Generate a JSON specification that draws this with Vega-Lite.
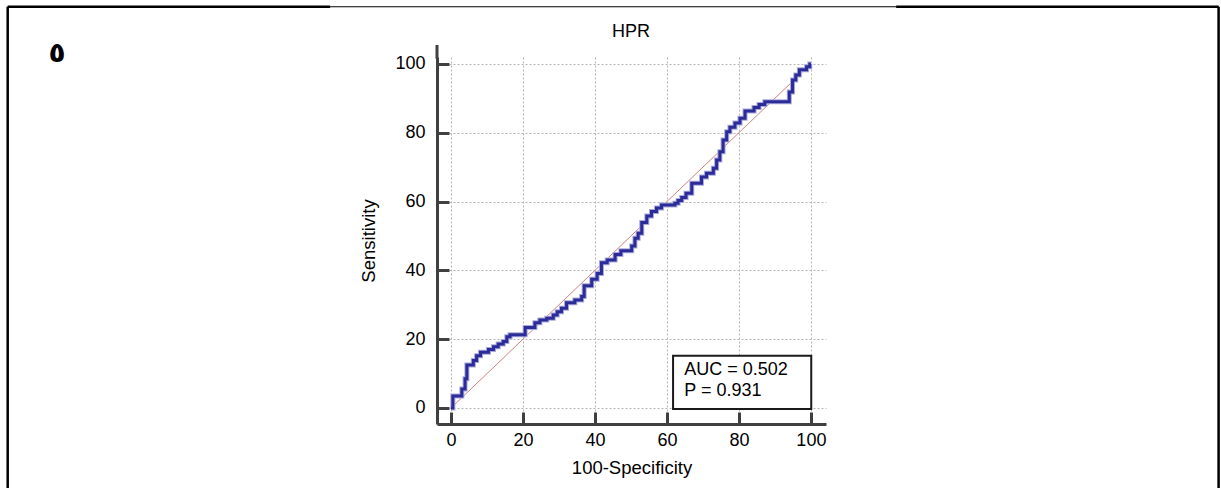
{
  "$schema": "https://vega.github.io/schema/vega-lite/v6.json",
  "width": 389,
  "height": 367,
  "autosize": {"type": "none"},
  "padding": {"left": 437, "top": 57, "right": 395, "bottom": 64},
  "background": "white",
  "config": {"view": {"stroke": null}, "font": "Liberation Sans"},
  "datasets": {
    "roc": [
      {"fpr": 0, "tpr": 0}, {"fpr": 0.5, "tpr": 3.5}, {"fpr": 3.0, "tpr": 5.5}, {"fpr": 3.9, "tpr": 8.5},
      {"fpr": 4.4, "tpr": 12.5}, {"fpr": 6.2, "tpr": 13.8}, {"fpr": 7.1, "tpr": 15.2}, {"fpr": 8.2, "tpr": 16.2},
      {"fpr": 10.4, "tpr": 17.0}, {"fpr": 11.8, "tpr": 17.8}, {"fpr": 13.1, "tpr": 18.6}, {"fpr": 14.5, "tpr": 19.3},
      {"fpr": 15.5, "tpr": 20.7}, {"fpr": 16.4, "tpr": 21.3}, {"fpr": 20.6, "tpr": 23.4}, {"fpr": 23.3, "tpr": 24.8},
      {"fpr": 24.7, "tpr": 25.6}, {"fpr": 26.6, "tpr": 26.1}, {"fpr": 28.4, "tpr": 27.0}, {"fpr": 29.5, "tpr": 28.0},
      {"fpr": 30.7, "tpr": 29.0}, {"fpr": 32.1, "tpr": 30.6}, {"fpr": 34.4, "tpr": 31.4}, {"fpr": 36.3, "tpr": 32.4},
      {"fpr": 37.0, "tpr": 35.5}, {"fpr": 39.1, "tpr": 37.4}, {"fpr": 40.6, "tpr": 39.1}, {"fpr": 41.8, "tpr": 42.2},
      {"fpr": 43.4, "tpr": 43.0}, {"fpr": 45.6, "tpr": 44.6}, {"fpr": 47.2, "tpr": 45.7}, {"fpr": 50.2, "tpr": 47.1},
      {"fpr": 51.1, "tpr": 49.3}, {"fpr": 52.0, "tpr": 50.8}, {"fpr": 53.0, "tpr": 53.9}, {"fpr": 54.4, "tpr": 55.8},
      {"fpr": 55.7, "tpr": 57.1}, {"fpr": 57.1, "tpr": 58.1}, {"fpr": 58.5, "tpr": 59.0}, {"fpr": 62.2, "tpr": 59.5},
      {"fpr": 63.1, "tpr": 60.3}, {"fpr": 64.1, "tpr": 61.2}, {"fpr": 65.3, "tpr": 62.4}, {"fpr": 66.9, "tpr": 65.3},
      {"fpr": 69.6, "tpr": 67.1}, {"fpr": 71.0, "tpr": 68.2}, {"fpr": 72.9, "tpr": 69.7}, {"fpr": 73.8, "tpr": 72.1},
      {"fpr": 74.7, "tpr": 74.5}, {"fpr": 75.6, "tpr": 77.9}, {"fpr": 76.6, "tpr": 80.3}, {"fpr": 77.5, "tpr": 81.6},
      {"fpr": 78.9, "tpr": 82.8}, {"fpr": 80.3, "tpr": 84.2}, {"fpr": 81.7, "tpr": 86.3}, {"fpr": 84.2, "tpr": 87.3},
      {"fpr": 85.6, "tpr": 88.2}, {"fpr": 87.2, "tpr": 89.0}, {"fpr": 94.0, "tpr": 91.8}, {"fpr": 94.9, "tpr": 95.3},
      {"fpr": 95.8, "tpr": 96.8}, {"fpr": 96.8, "tpr": 98.3}, {"fpr": 98.8, "tpr": 99.2}, {"fpr": 99.7, "tpr": 100},
      {"fpr": 100, "tpr": 100}
    ],
    "diag": [{"fpr": 0, "tpr": 0}, {"fpr": 100, "tpr": 100}]
  },
  "layer": [
    {
      "data": {"name": "diag"},
      "mark": {"type": "line", "color": "#cf8080", "strokeWidth": 1},
      "encoding": {
        "x": {
          "field": "fpr", "type": "quantitative",
          "scale": {"domain": [-3.9, 104.2], "nice": false, "zero": false},
          "axis": {
            "title": "100-Specificity",
            "values": [0, 5, 10, 15, 20, 25, 30, 35, 40, 45, 50, 55, 60, 65, 70, 75, 80, 85, 90, 95, 100],
            "labelExpr": "datum.value % 20 === 0 ? datum.label : ''",
            "labelOverlap": false, "labelFlush": false, "labelBound": false,
            "labelFont": "Liberation Sans", "labelFontSize": 18, "labelColor": "#000000", "labelPadding": 19,
            "titleFont": "Liberation Sans", "titleFontSize": 18.5, "titleFontWeight": "normal", "titleColor": "#000000", "titlePadding": 9,
            "domainColor": "#404040", "domainWidth": 3,
            "tickColor": "#404040",
            "tickSize": {"condition": {"test": "datum.value % 20 === 0", "value": -12}, "value": -6},
            "tickWidth": {"condition": {"test": "datum.value % 20 === 0", "value": 3}, "value": 1.2},
            "grid": true, "gridColor": "#b4b4b4", "gridDash": [2, 2], "gridWidth": 1,
            "gridOpacity": {"condition": {"test": "datum.value % 20 === 0", "value": 1}, "value": 0}
          }
        },
        "y": {
          "field": "tpr", "type": "quantitative",
          "scale": {"domain": [-4.65, 102.0], "nice": false, "zero": false},
          "axis": {
            "title": "Sensitivity",
            "values": [0, 5, 10, 15, 20, 25, 30, 35, 40, 45, 50, 55, 60, 65, 70, 75, 80, 85, 90, 95, 100],
            "labelExpr": "datum.value % 20 === 0 ? datum.label : ''",
            "labelOverlap": false, "labelFlush": false, "labelBound": false,
            "labelFont": "Liberation Sans", "labelFontSize": 18, "labelColor": "#000000", "labelPadding": 24,
            "titleFont": "Liberation Sans", "titleFontSize": 18.5, "titleFontWeight": "normal", "titleColor": "#000000", "titlePadding": 16,
            "domainColor": "#404040", "domainWidth": 3,
            "tickColor": "#404040",
            "tickSize": {"condition": {"test": "datum.value % 20 === 0", "value": -12}, "value": -6},
            "tickWidth": {"condition": {"test": "datum.value % 20 === 0", "value": 3}, "value": 1.2},
            "grid": true, "gridColor": "#b4b4b4", "gridDash": [2, 2], "gridWidth": 1,
            "gridOpacity": {"condition": {"test": "datum.value % 20 === 0", "value": 1}, "value": 0}
          }
        }
      }
    },
    {
      "data": {"name": "roc"},
      "mark": {"type": "line", "interpolate": "step-after", "color": "#a9a9dc", "strokeWidth": 5},
      "encoding": {
        "x": {"field": "fpr", "type": "quantitative"},
        "y": {"field": "tpr", "type": "quantitative"}
      }
    },
    {
      "data": {"name": "roc"},
      "mark": {"type": "line", "interpolate": "step-after", "color": "#2c2c98", "strokeWidth": 3},
      "encoding": {
        "x": {"field": "fpr", "type": "quantitative"},
        "y": {"field": "tpr", "type": "quantitative"}
      }
    },
    {
      "data": {"values": [{}]},
      "mark": {"type": "rule", "color": "#404040", "strokeWidth": 3, "clip": false},
      "encoding": {
        "x": {"datum": -3.9, "type": "quantitative"},
        "y": {"datum": 101.5, "type": "quantitative"},
        "y2": {"datum": 105.5}
      }
    },
    {
      "data": {"values": [{}]},
      "mark": {"type": "rect", "fill": "white", "stroke": "#1a1a1a", "strokeWidth": 2},
      "encoding": {
        "x": {"datum": 61.7, "type": "quantitative"},
        "x2": {"datum": 100.1},
        "y": {"datum": 15.2, "type": "quantitative"},
        "y2": {"datum": -0.3}
      }
    },
    {
      "data": {"values": [{}]},
      "mark": {"type": "text", "text": ["AUC = 0.502", "P = 0.931"], "align": "left", "baseline": "middle", "font": "Liberation Sans", "fontSize": 18, "lineHeight": 20.5, "color": "#000000"},
      "encoding": {
        "x": {"datum": 64.8, "type": "quantitative"},
        "y": {"datum": 10.9, "type": "quantitative"}
      }
    },
    {
      "data": {"values": [{}]},
      "mark": {"type": "text", "text": "HPR", "align": "center", "baseline": "middle", "font": "Liberation Sans", "fontSize": 18, "color": "#000000", "clip": false},
      "encoding": {
        "x": {"datum": 50.0, "type": "quantitative"},
        "y": {"datum": 109.3, "type": "quantitative"}
      }
    },
    {
      "data": {"values": [{}]},
      "mark": {"type": "text", "text": "٥", "align": "center", "baseline": "middle", "font": "DejaVu Sans", "fontWeight": "bold", "fontSize": 28, "color": "#000000", "clip": false},
      "encoding": {
        "x": {"datum": -109.5, "type": "quantitative"},
        "y": {"datum": 102.9, "type": "quantitative"}
      }
    },
    {
      "data": {"values": [{}]},
      "mark": {"type": "rule", "color": "#000000", "strokeWidth": 2.5, "clip": false},
      "encoding": {
        "x": {"datum": -123.2, "type": "quantitative"},
        "y": {"datum": 116.6, "type": "quantitative"},
        "y2": {"datum": -40}
      }
    },
    {
      "data": {"values": [{}]},
      "mark": {"type": "rule", "color": "#000000", "strokeWidth": 2.5, "clip": false},
      "encoding": {
        "x": {"datum": 213.3, "type": "quantitative"},
        "y": {"datum": 116.6, "type": "quantitative"},
        "y2": {"datum": -40}
      }
    },
    {
      "data": {"values": [{}]},
      "mark": {"type": "rule", "color": "#000000", "strokeWidth": 1, "clip": false},
      "encoding": {
        "x": {"datum": -123.2, "type": "quantitative"},
        "x2": {"datum": 213.3},
        "y": {"datum": 116.6, "type": "quantitative"}
      }
    },
    {
      "data": {"values": [{}]},
      "mark": {"type": "rule", "color": "#000000", "strokeWidth": 2.5, "clip": false},
      "encoding": {
        "x": {"datum": -123.2, "type": "quantitative"},
        "x2": {"datum": -33.6},
        "y": {"datum": 116.6, "type": "quantitative"}
      }
    },
    {
      "data": {"values": [{}]},
      "mark": {"type": "rule", "color": "#000000", "strokeWidth": 2.5, "clip": false},
      "encoding": {
        "x": {"datum": 123.7, "type": "quantitative"},
        "x2": {"datum": 213.3},
        "y": {"datum": 116.6, "type": "quantitative"}
      }
    }
  ]
}
